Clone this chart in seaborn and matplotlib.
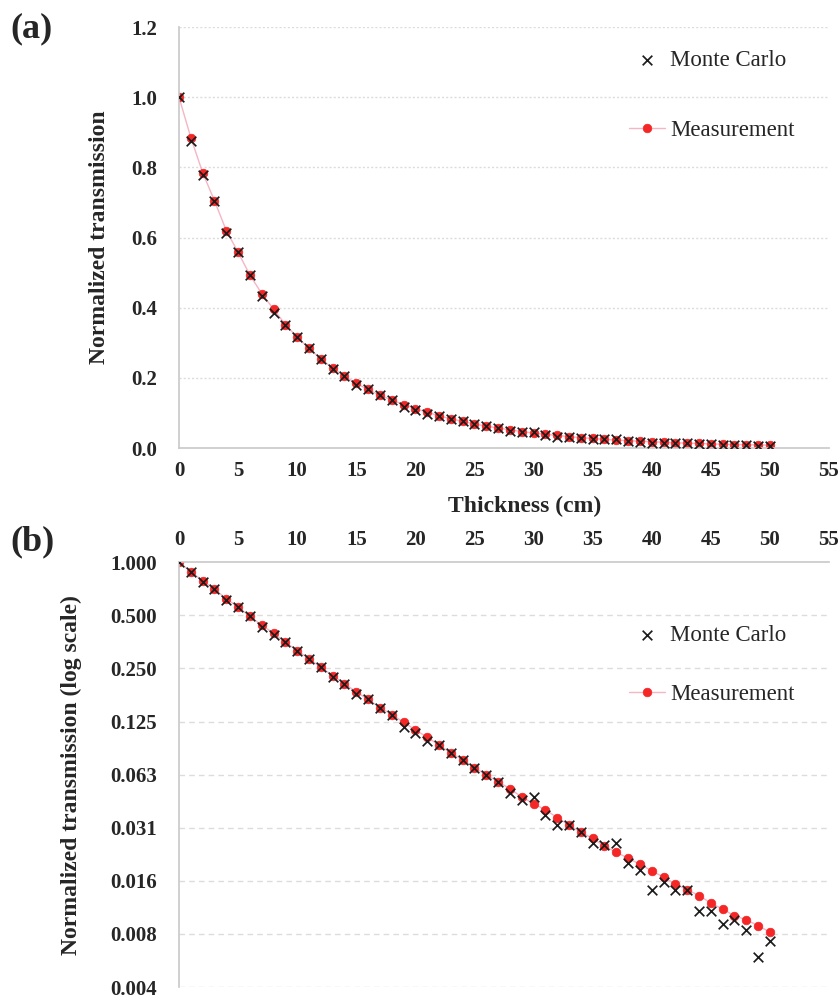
import numpy as np
import pandas as pd
import seaborn as sns
import matplotlib.pyplot as plt
from matplotlib.ticker import FixedLocator, FixedFormatter

# Data
thickness = list(range(0, 51))

measurement = [1.000, 0.885, 0.785, 0.705, 0.620, 0.558, 0.493, 0.440, 0.396, 0.352,
               0.316, 0.284, 0.254, 0.228, 0.205, 0.184, 0.167, 0.150, 0.137, 0.124,
               0.112, 0.102, 0.092, 0.083, 0.076, 0.0685, 0.0623, 0.057, 0.052, 0.0467,
               0.0428, 0.0395, 0.0357, 0.0324, 0.0295, 0.0272, 0.0246, 0.0227, 0.0210, 0.0194,
               0.0178, 0.0164, 0.0150, 0.0139, 0.0129, 0.0117, 0.0108, 0.0099, 0.0094, 0.0087,
               0.0080]

monte_carlo = [1.000, 0.876, 0.777, 0.705, 0.612, 0.558, 0.493, 0.432, 0.385, 0.352,
               0.316, 0.284, 0.254, 0.225, 0.205, 0.179, 0.167, 0.150, 0.137, 0.116,
               0.108, 0.097, 0.092, 0.083, 0.076, 0.0685, 0.0623, 0.057, 0.049, 0.045,
               0.0467, 0.0370, 0.0324, 0.0322, 0.0295, 0.0255, 0.0248, 0.0255, 0.0197, 0.0180,
               0.0139, 0.0153, 0.0139, 0.0139, 0.0106, 0.0106, 0.0089, 0.0094, 0.0082, 0.0058,
               0.0071]

lin_ticks = [0.0, 0.2, 0.4, 0.6, 0.8, 1.0, 1.2]
log_ticks = [1.0, 0.5, 0.25, 0.125, 0.0625, 0.03125, 0.015625, 0.0078125, 0.00390625]
log_tick_labels = ["1.000", "0.500", "0.250", "0.125", "0.063", "0.031", "0.016", "0.008", "0.004"]
x_ticks = list(range(0, 56, 5))

df = pd.DataFrame({"thickness": thickness, "measurement": measurement, "monte_carlo": monte_carlo})

sns.set_theme(style="white")
plt.rcParams["font.family"] = ["Liberation Serif", "DejaVu Serif"]

RED = "#f42626"
PINK = "#f5b5c4"
SPINE = "#c8c8c8"
GRID = "#dcdcdc"

fig = plt.figure(figsize=(8.4, 9.98), dpi=100)
ax1 = fig.add_axes([0.2131, 0.5511, 0.7738, 0.4218])
ax2 = fig.add_axes([0.2131, 0.0110, 0.7738, 0.4256])


def draw_series(ax):
    sns.lineplot(data=df, x="thickness", y="measurement", ax=ax, color=PINK, lw=1.0,
                 marker="o", markersize=6.2, markerfacecolor=RED, markeredgecolor=RED,
                 markeredgewidth=0.5, label="Measurement")
    sns.scatterplot(data=df, x="thickness", y="monte_carlo", ax=ax, marker="x", color="#1c1c1c",
                    s=48, linewidth=1.25, label="Monte Carlo", zorder=3)
    handles, labels = ax.get_legend_handles_labels()
    return handles[::-1], labels[::-1]


# (a) linear scale
h, l = draw_series(ax1)
ax1.set_xlim(0, 55)
ax1.set_ylim(0, 1.2)
ax1.set_xticks(x_ticks)
ax1.set_yticks(lin_ticks)
ax1.set_yticklabels(["%.1f" % v for v in lin_ticks])
for v in lin_ticks[1:]:
    ax1.axhline(v, color=GRID, lw=1.0, ls=(0, (1.5, 1.5)), zorder=0)
for s in ["top", "right"]:
    ax1.spines[s].set_visible(False)
for s in ["left", "bottom"]:
    ax1.spines[s].set_color(SPINE)
    ax1.spines[s].set_linewidth(1.2)
ax1.tick_params(axis="both", length=0, labelsize=15)
ax1.tick_params(axis="y", pad=16)
ax1.tick_params(axis="x", pad=9)
ax1.set_xlabel("Thickness (cm)", fontsize=17, fontweight="bold")
ax1.set_ylabel("Normalized transmission", fontsize=17, fontweight="bold")
ax1.xaxis.set_label_coords(0.532, -0.114)
ax1.yaxis.set_label_coords(-0.106, 0.5)
ax1.legend(h, l, loc="upper left", bbox_to_anchor=(0.66, 0.995), frameon=False,
           fontsize=16.5, handlelength=1.6, handletextpad=0.2, labelspacing=2.15)

# (b) log scale
h, l = draw_series(ax2)
ax2.set_yscale("log", base=2)
ax2.set_xlim(0, 55)
ax2.set_ylim(log_ticks[-1], 1.0)
ax2.xaxis.tick_top()
ax2.set_xticks(x_ticks)
ax2.yaxis.set_major_locator(FixedLocator(log_ticks))
ax2.yaxis.set_major_formatter(FixedFormatter(log_tick_labels))
ax2.yaxis.set_minor_locator(FixedLocator([]))
for v in log_ticks[1:]:
    ax2.axhline(v, color=GRID, lw=1.0, ls=(0, (4, 3)), zorder=0)
for s in ["bottom", "right"]:
    ax2.spines[s].set_visible(False)
for s in ["left", "top"]:
    ax2.spines[s].set_color(SPINE)
    ax2.spines[s].set_linewidth(1.2)
ax2.tick_params(axis="both", length=0, labelsize=15)
ax2.tick_params(axis="y", pad=16)
ax2.tick_params(axis="x", pad=9)
ax2.set_xlabel("")
ax2.set_ylabel("Normalized transmission (log scale)", fontsize=17, fontweight="bold")
ax2.yaxis.set_label_coords(-0.149, 0.5)
ax2.legend(h, l, loc="upper left", bbox_to_anchor=(0.66, 0.90), frameon=False,
           fontsize=16.5, handlelength=1.6, handletextpad=0.2, labelspacing=1.65)

for lab in ax1.get_xticklabels() + ax1.get_yticklabels() + ax2.get_xticklabels() + ax2.get_yticklabels():
    lab.set_fontweight("bold")

fig.text(0.012, 0.971, "(a)", fontsize=26, fontweight="bold", va="center", ha="left")
fig.text(0.012, 0.457, "(b)", fontsize=26, fontweight="bold", va="center", ha="left")

fig.savefig("out.png", dpi=100)
